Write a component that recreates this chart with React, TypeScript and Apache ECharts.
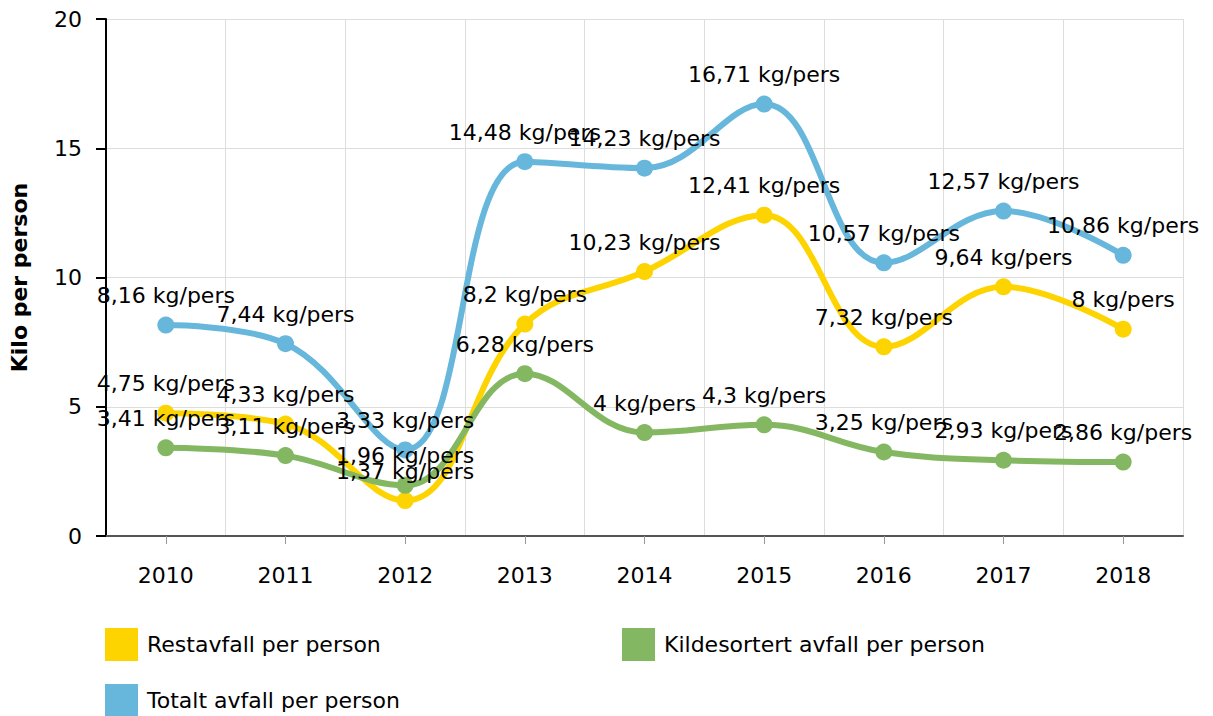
import React, { useEffect, useRef } from "react";
import * as echarts from "echarts";

const years = ["2010", "2011", "2012", "2013", "2014", "2015", "2016", "2017", "2018"];
const restavfall = [4.75, 4.33, 1.37, 8.2, 10.23, 12.41, 7.32, 9.64, 8];
const kildesortert = [3.41, 3.11, 1.96, 6.28, 4, 4.3, 3.25, 2.93, 2.86];
const totalt = [8.16, 7.44, 3.33, 14.48, 14.23, 16.71, 10.57, 12.57, 10.86];

const names = ["Restavfall per person", "Kildesortert avfall per person", "Totalt avfall per person"];
const colors = ["#fdd400", "#84b761", "#67b7dc"];

const FONT = "DejaVu Sans";

export default function App() {
  const ref = useRef<HTMLDivElement>(null);
  useEffect(() => {
    if (!ref.current) return;
    const chart = echarts.init(ref.current, undefined, { renderer: "svg" });
    const fmt = (p: any) => String(p.value).replace(".", ",") + " kg/pers";
    const mk = (name: string, data: number[], color: string) => ({
      name,
      type: "line",
      data,
      smooth: 0.4,
      symbol: "circle",
      symbolSize: 17,
      itemStyle: { color },
      lineStyle: { color, width: 6 },
      label: {
        show: true,
        position: "top",
        distance: 10,
        formatter: fmt,
        color: "#000",
        fontFamily: FONT,
        fontSize: 22,
      },
    });
    const legendCommon = {
      icon: "rect",
      itemWidth: 33,
      itemHeight: 33,
      itemGap: 10,
      textStyle: { color: "#000", fontFamily: FONT, fontSize: 22, padding: [0, 0, 0, 4] },
    };
    chart.setOption({
      animation: false,
      color: colors,
      grid: { left: 105, right: 30, top: 19, bottom: 180, containLabel: false },
      legend: [
        { ...legendCommon, data: [names[0]], left: 100, top: 623 },
        { ...legendCommon, data: [names[1]], left: 617, top: 623 },
        { ...legendCommon, data: [names[2]], left: 100, top: 679 },
      ],
      xAxis: {
        type: "category",
        data: years,
        boundaryGap: true,
        axisLine: { show: true, lineStyle: { color: "#555", width: 2 } },
        axisTick: { show: true, alignWithLabel: true, length: 8, lineStyle: { color: "#999" } },
        axisLabel: { color: "#000", fontFamily: FONT, fontSize: 22, margin: 28 },
        splitLine: { show: true, lineStyle: { color: "#ddd", width: 1 } },
      },
      yAxis: {
        type: "value",
        min: 0,
        max: 20,
        interval: 5,
        name: "Kilo per person",
        nameLocation: "middle",
        nameGap: 76,
        nameTextStyle: { color: "#000", fontFamily: FONT, fontSize: 22, fontWeight: "bold" },
        axisLine: { show: true, lineStyle: { color: "#000", width: 2 } },
        axisTick: { show: true, length: 10, lineStyle: { color: "#000", width: 2 } },
        axisLabel: { color: "#000", fontFamily: FONT, fontSize: 22, margin: 24 },
        splitLine: { show: true, lineStyle: { color: "#ddd", width: 1 } },
      },
      series: [
        mk(names[0], restavfall, colors[0]),
        mk(names[1], kildesortert, colors[1]),
        mk(names[2], totalt, colors[2]),
      ],
    });
    return () => chart.dispose();
  }, []);
  return <div ref={ref} style={{ width: 1213, height: 716, position: "absolute", left: 0, top: 0 }} />;
}
